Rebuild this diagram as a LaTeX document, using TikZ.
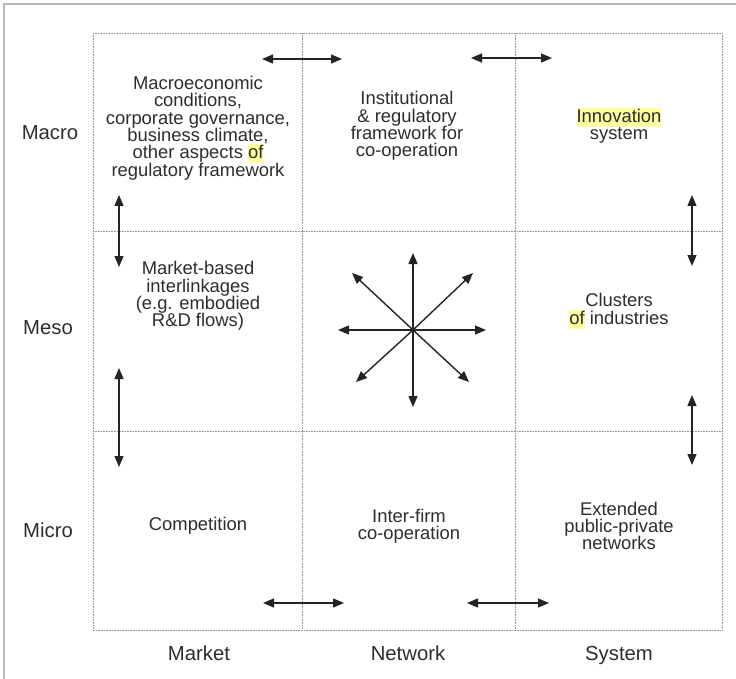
\documentclass[tikz,border=0pt]{standalone}
\usepackage{fontspec}
\setmainfont{Liberation Sans}
\usetikzlibrary{arrows.meta,positioning}
\definecolor{inkgray}{RGB}{45,45,45}
\definecolor{gridgray}{RGB}{150,150,150}
\definecolor{framegray}{RGB}{185,185,185}
\definecolor{markyellow}{RGB}{255,255,160}
\newcommand{\markword}[1]{{\setlength{\fboxsep}{0pt}\colorbox{markyellow}{\rule[-4.5pt]{0pt}{19pt}#1}}}
\newcommand{\cellfont}{\fontsize{18.4}{17.3}\selectfont\lineskiplimit=-20pt\relax}

\tikzset{
  celltext/.style={align=center, text=inkgray, font=\cellfont, inner sep=0pt},
  axislabel/.style={text=inkgray, font=\fontsize{20.3}{22}\selectfont, inner sep=0pt, anchor=base},
  gridline/.style={gridgray, densely dotted, line width=0.6pt},
  link/.style={{Triangle[length=11pt,width=9pt]}-{Triangle[length=11pt,width=9pt]}, line width=1.4pt, inkgray!80!black},
}

\begin{document}
\begin{tikzpicture}[x=1pt,y=-1pt]
    \useasboundingbox (0,0) rectangle (736,679);

    % Frame (top and left edge only)
    \draw[framegray, line width=1.2pt] (4,679) -- (4,4) -- (736,4);

    % Grid of cells
    \draw[gridline] (93,33) rectangle (722,630);
    \foreach \xg in {302,515} \draw[gridline] (\xg,33) -- (\xg,630);
    \foreach \yg in {231,431} \draw[gridline] (93,\yg) -- (722,\yg);

    % Row labels
    \node[axislabel] (macro) at (50,140) {Macro};
    \node[axislabel] (meso)  at (48,334) {Meso};
    \node[axislabel] (micro) at (48,537) {Micro};

    % Column labels
    \node[axislabel] (market)  at (199,660) {Market};
    \node[axislabel] (network) at (408,660) {Network};
    \node[axislabel] (system)  at (619,660) {System};

    % Cell contents
    \node[celltext] (macromarket) at (198,128) {Macroeconomic\\conditions,\\corporate governance,\\business climate,\\other aspects \markword{of}\\regulatory framework};
    \node[celltext] (macronetwork) at (407,126) {Institutional\\\& regulatory\\framework for\\co-operation};
    \node[celltext] (macrosystem) at (619,126) {\markword{Innovation}\\system};
    \node[celltext] (mesomarket) at (198,296) {Market-based\\interlinkages\\(e.g. embodied\\R\&D flows)};
    \node[celltext] (mesosystem) at (619,311) {Clusters\\\markword{of} industries};
    \node[celltext] (micromarket) at (198,526) {Competition};
    \node[celltext] (micronetwork) at (409,526) {Inter-firm\\co-operation};
    \node[celltext] (microsystem) at (619,526) {Extended\\public-private\\networks};

    % Horizontal links across column borders
    \coordinate (toplA) at (262,59);  \coordinate (toplB) at (342,59);
    \coordinate (toprA) at (471,58);  \coordinate (toprB) at (552,58);
    \coordinate (botlA) at (263,603); \coordinate (botlB) at (344,603);
    \coordinate (botrA) at (467,603); \coordinate (botrB) at (549,603);
    \draw[link] (toplA) -- (toplB);
    \draw[link] (toprA) -- (toprB);
    \draw[link] (botlA) -- (botlB);
    \draw[link] (botrA) -- (botrB);

    % Vertical links across row borders
    \coordinate (lupA) at (119,195);  \coordinate (lupB) at (119,267);
    \coordinate (llowA) at (119,368); \coordinate (llowB) at (119,467);
    \coordinate (rupA) at (692,195);  \coordinate (rupB) at (692,266);
    \coordinate (rlowA) at (692,395); \coordinate (rlowB) at (692,465);
    \draw[link] (lupA) -- (lupB);
    \draw[link] (llowA) -- (llowB);
    \draw[link] (rupA) -- (rupB);
    \draw[link] (rlowA) -- (rlowB);

    % Star of links in the centre cell
    \coordinate (hub) at (413,330);
    \foreach \dx/\dy [count=\k] in {73/0, 60/-57, 0/-77, -61/-57, -75/0, -57/52, 0/77, 56/52} {
      \path (hub) ++(\dx,\dy) coordinate (ray\k);
      \draw[-{Triangle[length=11pt,width=9pt]}, line width=1.4pt, inkgray!80!black] (hub) -- (ray\k);
    }
\end{tikzpicture}
\end{document}
